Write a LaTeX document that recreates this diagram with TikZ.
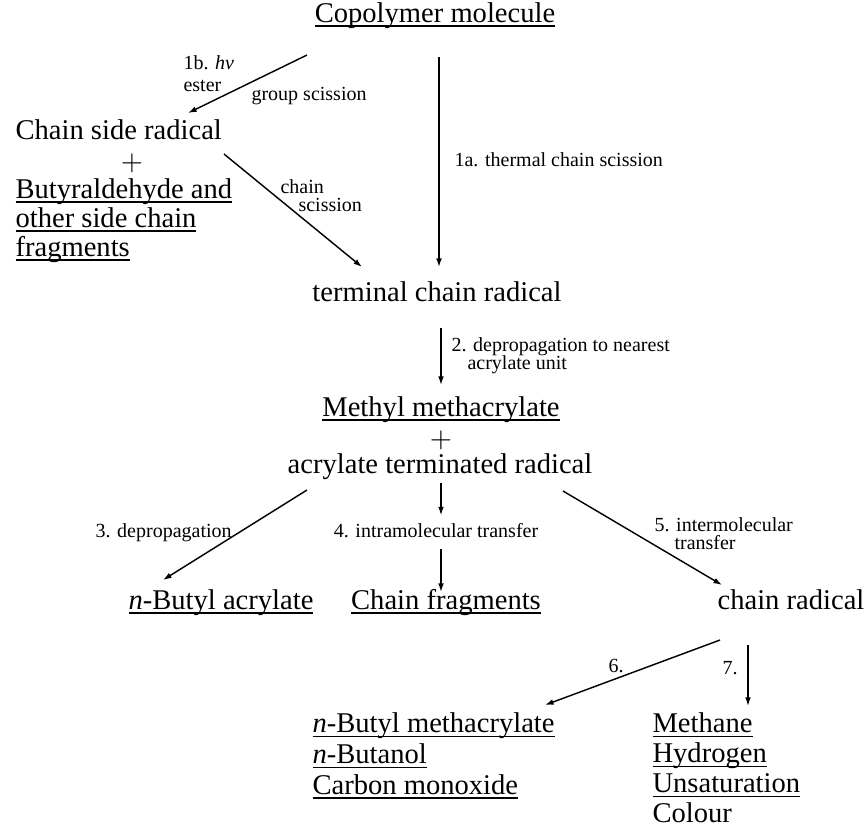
\documentclass[tikz,border=0pt]{standalone}
\usepackage{fontspec}
\setmainfont{Liberation Serif}
\usetikzlibrary{arrows.meta,positioning,calc}
\lineskiplimit=-10pt
% underline close under the baseline, as printed
\newcommand\uln[1]{\setbox0\hbox{#1}\rlap{\rule[-1.6pt]{\wd0}{0.45pt}}\box0}

\begin{document}
\begin{tikzpicture}[
  x=0.35pt, y=-0.35pt,
  mol/.style={inner sep=0pt, anchor=base, font=\fontsize{10}{10.2}\selectfont},
  lst/.style={inner sep=0pt, anchor=base west, align=left,
              font=\fontsize{10}{10.4}\selectfont},
  lbl/.style={inner sep=0pt, anchor=base west, align=left,
              font=\fontsize{7}{7.6}\selectfont},
  arr/.style={-{Latex[length=3pt,width=2pt]}, line width=0.5pt}
]
\useasboundingbox (0,0) rectangle (868,825);

% species (multi-line nodes sit on their last line)
\node[mol] (cop) at (435,22) {\uln{Copolymer molecule}};
\node[mol, anchor=base west] (side) at (15,139) {Chain side radical};
\node[mol] (plus1) at (132,170) {$+$};
\node[lst, font=\fontsize{10}{10.15}\selectfont] (frag) at (15,256)
  {\uln{Butyraldehyde and}\\\uln{other side chain}\\\uln{fragments}};
\node[mol] (term) at (437,301) {terminal chain radical};
\node[mol] (mma) at (441,416) {\uln{Methyl methacrylate}};
\node[mol] (plus2) at (441,447) {$+$};
\node[mol] (acr) at (440,473) {acrylate terminated radical};
\node[mol] (nba) at (221,609) {\uln{\textit{n}-Butyl acrylate}};
\node[mol] (cfr) at (446,609) {\uln{Chain fragments}};
\node[mol] (crad) at (791,609) {chain radical};
\node[lst, font=\fontsize{10}{10.7}\selectfont] (prodA) at (312,794)
  {\uln{\textit{n}-Butyl methacrylate}\\\uln{\textit{n}-Butanol}\\\uln{Carbon monoxide}};
\node[lst] (prodB) at (652,822)
  {\uln{Methane}\\\uln{Hydrogen}\\\uln{Unsaturation}\\Colour};

% step labels
\node[lbl, font=\fontsize{7}{7.7}\selectfont] (l1b) at (183,91) {1b. \textit{hν}\\ester};
\node[lbl] (l1bb) at (251,100) {group scission};
\node[lbl] (l1a) at (454,166) {1a. thermal chain scission};
\node[lbl, font=\fontsize{7}{6}\selectfont] (lcs) at (280,211)
  {chain\\\hspace*{6.3pt}scission};
\node[lbl, font=\fontsize{7}{6}\selectfont] (l2) at (451,369)
  {2. depropagation to nearest\\\hspace*{5.6pt}acrylate unit};
\node[lbl] (l3) at (95,537) {3. depropagation};
\node[lbl, anchor=base] (l4) at (436,537) {4. intramolecular transfer};
\node[lbl, font=\fontsize{7}{6.3}\selectfont] (l5) at (654,549)
  {5. intermolecular\\\hspace*{7pt}transfer};
\node[lbl, anchor=base] (l6) at (616,672) {6.};
\node[lbl, anchor=base] (l7) at (730,674) {7.};

% reactions
\draw[arr] ($(cop.base)+(-128,33)$) -- ($(side.base west)+(173,-26)$);
\draw[arr] ($(cop.base)+(4,35)$) -- ($(term.base)+(2,-34)$);
\draw[arr] ($(side.base west)+(209,15)$) -- ($(term.base)+(-75,-34)$);
\draw[arr] ($(term.base)+(4,27)$) -- ($(mma.base)+(0,-31)$);
\draw[arr] ($(acr.base)+(-133,17)$) -- ($(nba.base)+(-58,-29)$);
\draw[arr] ($(acr.base)+(1,10)$) -- ($(l4.north)+(5,-7)$);
\draw[arr] ($(l4.south)+(5,11)$) -- ($(cfr.base)+(-5,-17)$);
\draw[arr] ($(acr.base)+(123,18)$) -- ($(crad.base)+(-69,-24)$);
\draw[arr] ($(crad.base)+(-71,31)$) -- ($(prodA.base west)+(233,-89)$);
\draw[arr] ($(crad.base)+(-43,36)$) -- ($(prodB.base west)+(96,-116)$);
\end{tikzpicture}
\end{document}
